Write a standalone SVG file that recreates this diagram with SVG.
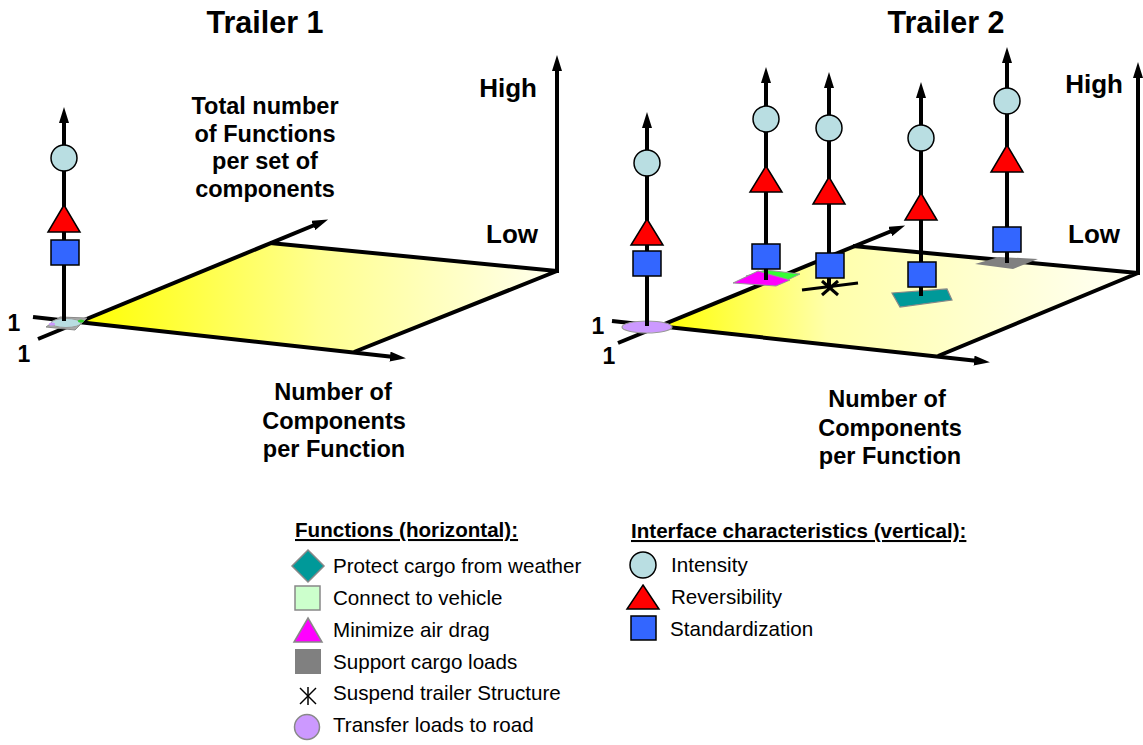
<svg xmlns="http://www.w3.org/2000/svg" width="1143" height="745" viewBox="0 0 1143 745">
<style>
.t{font-family:"Liberation Sans",Arial,sans-serif;font-weight:bold;fill:#000}
.title{font-size:30.5px;text-anchor:middle}
.lbl{font-size:23.5px;text-anchor:middle}
.hl{font-size:26px;text-anchor:end}
.one{font-size:23px;text-anchor:middle}
.lg{font-family:"Liberation Sans",Arial,sans-serif;font-size:20.6px;fill:#000}
.lh{font-family:"Liberation Sans",Arial,sans-serif;font-size:20.6px;font-weight:bold;text-decoration:underline;fill:#000}
.axa{stroke:#000;stroke-width:4;fill:none;marker-end:url(#ah)}
.edge{stroke:#000;stroke-width:4;fill:none;stroke-linejoin:round}
.stick{stroke:#000;stroke-width:4;marker-end:url(#ah)}
.circ{fill:#b9dee2;stroke:#000;stroke-width:1.5}
.tri{fill:#ff0000;stroke:#000;stroke-width:1.5}
.sq{fill:#3366ff;stroke:#000;stroke-width:1.5}
</style>
<defs>
<marker id="ah" markerUnits="userSpaceOnUse" markerWidth="16" markerHeight="10" refX="4" refY="5" orient="auto">
<path d="M0,0 L16,5 L0,10 z" fill="#000"/>
</marker>
<linearGradient id="g1" gradientUnits="userSpaceOnUse" x1="80" y1="0" x2="557" y2="0">
<stop offset="0" stop-color="#ffff00"/>
<stop offset="0.5" stop-color="#ffff90"/>
<stop offset="1" stop-color="#ffffee"/>
</linearGradient>
<linearGradient id="g2" gradientUnits="userSpaceOnUse" x1="660" y1="0" x2="1138" y2="0">
<stop offset="0" stop-color="#ffff00"/>
<stop offset="0.35" stop-color="#ffffaa"/>
<stop offset="1" stop-color="#fffff6"/>
</linearGradient>
</defs>

<!-- Titles -->
<text class="t title" x="265" y="33">Trailer 1</text>
<text class="t title" x="946" y="33">Trailer 2</text>

<!-- Chart 1 frame -->
<g id="chart1">
<polygon points="80,322 270,243 557,271 354,352" fill="url(#g1)"/>
<polyline class="edge" points="270,243 557,271 354,352"/>
<g id="chart1-axes">
<line class="axa" x1="38" y1="339" x2="317" y2="224"/>
<line class="axa" x1="33" y1="317" x2="394" y2="357"/>
<line class="axa" x1="557" y1="273" x2="557" y2="67"/>
</g>
<text class="t lbl" x="265" y="114">Total number</text>
<text class="t lbl" x="265" y="142">of Functions</text>
<text class="t lbl" x="265" y="169">per set of</text>
<text class="t lbl" x="265" y="197">components</text>
<text class="t hl" x="537" y="97">High</text>
<text class="t hl" x="538" y="243">Low</text>
<text class="t lbl" x="333" y="400">Number of</text>
<text class="t lbl" x="334" y="429">Components</text>
<text class="t lbl" x="334" y="457">per Function</text>
<text class="t one" x="14" y="331">1</text>
<text class="t one" x="24" y="362">1</text>
</g>

<!-- Chart 2 frame -->
<g id="chart2">
<polygon points="660,326 853,246 1138,273 938,356" fill="url(#g2)"/>
<polyline class="edge" points="853,246 1138,273 938,356"/>
<g id="chart2-axes">
<line class="axa" x1="618" y1="343" x2="894" y2="230"/>
<line class="axa" x1="612" y1="321" x2="978" y2="361"/>
<line class="axa" x1="1138" y1="275" x2="1138" y2="74"/>
</g>
<text class="t hl" x="1123" y="93">High</text>
<text class="t hl" x="1120" y="243">Low</text>
<text class="t lbl" x="887" y="407">Number of</text>
<text class="t lbl" x="890" y="436">Components</text>
<text class="t lbl" x="890" y="464">per Function</text>
<text class="t one" x="598" y="334">1</text>
<text class="t one" x="609" y="364">1</text>
</g>

<!-- Trailer 1 stick -->
<g id="t1-stick">
<polygon points="46,327 60,317 87,318 75,330" fill="#a9a9a9" stroke="#8a8a8a" stroke-width="1"/>
<ellipse cx="66" cy="323" rx="15" ry="4.5" fill="#b9dee2" stroke="#999" stroke-width="1"/>
<ellipse cx="52" cy="324" rx="3" ry="1.5" fill="#cc99ff"/>
<ellipse cx="81" cy="321" rx="3" ry="1.5" fill="#33cc33"/>
<line class="stick" x1="64" y1="321" x2="64" y2="119"/>
<circle class="circ" cx="64" cy="158" r="13"/>
<polygon class="tri" points="64,205 48,232 80,232"/>
<rect class="sq" x="51" y="240" width="28" height="25"/>
</g>

<!-- Trailer 2 sticks -->
<g id="t2-stick1">
<line class="stick" x1="647" y1="326" x2="647" y2="124"/>
<ellipse cx="647" cy="327" rx="25" ry="6" fill="#cc99ff" stroke="#999" stroke-width="1.2"/>
<line stroke="#000" stroke-width="4" x1="647" y1="276" x2="647" y2="326"/>
<circle class="circ" cx="647" cy="163" r="13"/>
<polygon class="tri" points="647,219 631,245 663,245"/>
<rect class="sq" x="633" y="251" width="28" height="25"/>
</g>

<g id="t2-stick2">
<polygon points="746,276 766,270 800,274 779,284" fill="#33ff33" stroke="#999" stroke-width="1"/>
<polygon points="733,283 758,271 790,280 776,286" fill="#ff00ff" stroke="#999" stroke-width="1"/>
<line class="stick" x1="766" y1="280" x2="766" y2="79"/>
<circle class="circ" cx="766" cy="119" r="13"/>
<polygon class="tri" points="766,166 750,192 782,192"/>
<rect class="sq" x="752" y="244" width="28" height="25"/>
</g>

<g id="t2-stick3">
<line stroke="#000" stroke-width="3" x1="802" y1="290" x2="858" y2="283"/>
<line stroke="#000" stroke-width="3" x1="822" y1="281" x2="838" y2="295"/>
<line stroke="#000" stroke-width="3" x1="838" y1="281" x2="822" y2="295"/>
<line class="stick" x1="829" y1="289" x2="829" y2="84"/>
<circle class="circ" cx="829" cy="128" r="13"/>
<polygon class="tri" points="829,177 813,204 845,204"/>
<rect class="sq" x="816" y="253" width="28" height="25"/>
</g>

<g id="t2-stick4">
<polygon points="892,293 947,289 952,300 900,307" fill="#009999" stroke="#888" stroke-width="1.2"/>
<line class="stick" x1="921" y1="296" x2="921" y2="94"/>
<circle class="circ" cx="921" cy="138" r="13"/>
<polygon class="tri" points="921,193 905,220 937,220"/>
<rect class="sq" x="908" y="262" width="28" height="25"/>
</g>

<g id="t2-stick5">
<polygon points="975,264 999,257 1038,259 1013,269" fill="#808080"/>
<line class="stick" x1="1007" y1="263" x2="1007" y2="59"/>
<circle class="circ" cx="1007" cy="101" r="13"/>
<polygon class="tri" points="1007,145 991,172 1023,172"/>
<rect class="sq" x="993" y="227" width="28" height="25"/>
</g>

<!-- Legend: functions -->
<g id="legend-functions">
<text class="lh" x="295" y="537">Functions (horizontal):</text>
<g id="lf-protect">
<polygon points="308,550 324,566 308,582 292,566" fill="#009999" stroke="#888" stroke-width="1.5"/>
<text class="lg" x="333" y="573">Protect cargo from weather</text>
</g>
<g id="lf-connect">
<rect x="295" y="586" width="25" height="24" fill="#ccffcc" stroke="#888" stroke-width="1.5"/>
<text class="lg" x="333" y="605">Connect to vehicle</text>
</g>
<g id="lf-drag">
<polygon points="308,618 322,642 294,642" fill="#ff00ff" stroke="#888" stroke-width="1.5"/>
<text class="lg" x="333" y="637">Minimize air drag</text>
</g>
<g id="lf-support">
<rect x="295" y="649" width="26" height="25" fill="#808080"/>
<text class="lg" x="333" y="669">Support cargo loads</text>
</g>
<g id="lf-suspend">
<line x1="300" y1="688" x2="316" y2="704" stroke="#000" stroke-width="1.5"/>
<line x1="316" y1="688" x2="300" y2="704" stroke="#000" stroke-width="1.5"/>
<line x1="308" y1="687" x2="308" y2="705" stroke="#000" stroke-width="1.5"/>
<text class="lg" x="333" y="700">Suspend trailer Structure</text>
</g>
<g id="lf-transfer">
<circle cx="307" cy="727" r="12.5" fill="#cc99ff" stroke="#888" stroke-width="1.5"/>
<text class="lg" x="333" y="732">Transfer loads to road</text>
</g>
</g>

<!-- Legend: interface characteristics -->
<g id="legend-interface">
<text class="lh" x="631" y="538">Interface characteristics (vertical):</text>
<g id="li-intensity">
<circle class="circ" cx="643" cy="565" r="13"/>
<text class="lg" x="671" y="572">Intensity</text>
</g>
<g id="li-reversibility">
<polygon class="tri" points="643,585 659,609 627,609"/>
<text class="lg" x="671" y="604">Reversibility</text>
</g>
<g id="li-standardization">
<rect class="sq" x="631" y="616" width="25" height="24"/>
<text class="lg" x="670" y="636">Standardization</text>
</g>
</g>
</svg>
